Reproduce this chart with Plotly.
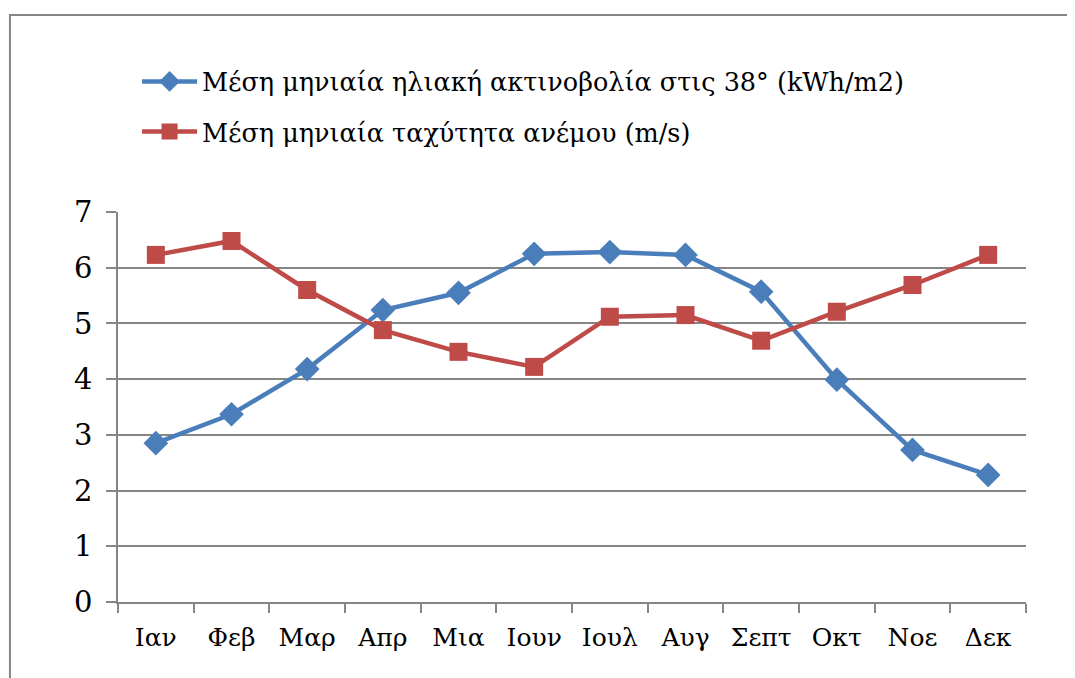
import plotly.graph_objects as go

months = ["Ιαν", "Φεβ", "Μαρ", "Απρ", "Μια", "Ιουν", "Ιουλ", "Αυγ", "Σεπτ", "Οκτ", "Νοε", "Δεκ"]
solar = [2.85, 3.37, 4.18, 5.24, 5.55, 6.25, 6.28, 6.23, 5.57, 3.99, 2.73, 2.28]
wind = [6.23, 6.48, 5.60, 4.88, 4.49, 4.22, 5.12, 5.15, 4.69, 5.21, 5.69, 6.23]

solar_name = "Μέση μηνιαία ηλιακή ακτινοβολία στις 38° (kWh/m2)"
wind_name = "Μέση μηνιαία ταχύτητα ανέμου (m/s)"

blue = "#4A7EBB"
red = "#BE4B48"
grey = "#868686"
font = "DejaVu Serif"

fig = go.Figure()
fig.add_trace(go.Scatter(
    x=months, y=solar, name=solar_name, mode="lines+markers", legendgroup="a",
    line=dict(color=blue, width=4.5),
    marker=dict(symbol="diamond", size=19, color=blue),
))
fig.add_trace(go.Scatter(
    x=months, y=wind, name=wind_name, mode="lines+markers", legendgroup="b",
    line=dict(color=red, width=4.5),
    marker=dict(symbol="square", size=18, color=red),
))

# page body has an 8px margin, so the margins are shifted by that much
fig.update_layout(
    width=1075, height=678,
    margin=dict(l=110, r=57, t=204, b=84),
    paper_bgcolor="white", plot_bgcolor="white",
    font=dict(family=font, size=25, color="black"),
    legend=dict(
        x=0.021, y=1.394, xanchor="left", yanchor="top",
        bgcolor="rgba(0,0,0,0)", itemwidth=55,
        traceorder="grouped", tracegroupgap=14,
        font=dict(family=font, size=25.5),
    ),
    shapes=[dict(
        type="rect", xref="paper", yref="paper",
        x0=-0.119, x1=1.1, y0=-0.3, y1=1.505,
        line=dict(color=grey, width=2), layer="below",
    )],
)
fig.update_xaxes(
    type="category", range=[-0.5, len(months) - 0.5],
    showline=True, linecolor=grey, linewidth=1.5,
    ticks="outside", tickson="boundaries", ticklen=9, tickcolor=grey, tickwidth=1.5,
    showgrid=False, tickangle=0, ticklabelstandoff=12,
    tickfont=dict(family=font, size=25),
)
fig.update_yaxes(
    range=[0, 7], dtick=1, showline=True, linecolor=grey, linewidth=1.5,
    ticks="outside", ticklen=10, tickcolor=grey, tickwidth=1.5,
    showgrid=True, gridcolor=grey, gridwidth=1.5, zeroline=False,
    ticklabelstandoff=8, tickfont=dict(family=font, size=29),
)

fig.write_html("out.html")
